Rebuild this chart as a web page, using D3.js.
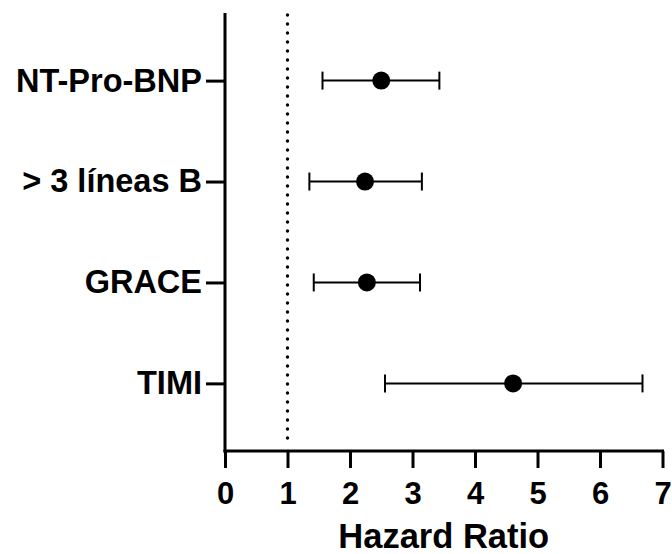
<!DOCTYPE html>
<html>
<head>
<meta charset="utf-8">
<script src="https://cdn.jsdelivr.net/npm/d3@7"></script>
<style>
	body { margin: 0; background: #fff; }
	svg text { font-family: "Liberation Sans", Arial, sans-serif; font-weight: bold; fill: #000; }
</style>
</head>
<body>
<div id="chart"></div>
<script>
let categories = ['NT-Pro-BNP', '> 3 líneas B', 'GRACE', 'TIMI'],
	hazard     = [2.50, 2.24, 2.27, 4.61],
	ciLow      = [1.56, 1.35, 1.42, 2.56],
	ciHigh     = [3.43, 3.15, 3.12, 6.68],
	xTicks     = [0, 1, 2, 3, 4, 5, 6, 7],
	refLine    = 1;

let width     = 672,
	height    = 554,
	plotLeft  = 225,
	plotRight = 662.5,
	plotTop   = 13,
	plotBot   = 451;

let svg = d3.select('#chart')
	.append('svg')
	.attr('width', width)
	.attr('height', height);

let x = d3.scaleLinear()
	.domain([0, 7])
	.range([plotLeft, plotRight]);

let y = d3.scalePoint()
	.domain(categories)
	.range([plotTop, plotBot])
	.padding(0.67);

// dotted reference line at HR = 1
svg.append('line')
	.attr('x1', x(refLine)).attr('x2', x(refLine))
	.attr('y1', plotTop + 2).attr('y2', plotBot - 4)
	.attr('stroke', '#000')
	.attr('stroke-width', 3.4)
	.attr('stroke-linecap', 'round')
	.attr('stroke-dasharray', '0,9');

let xAxis = svg.append('g')
	.attr('transform', 'translate(0,' + plotBot + ')')
	.call(d3.axisBottom(x).tickValues(xTicks).tickFormat(d3.format('d'))
		.tickSize(17).tickPadding(14).tickSizeOuter(0));

xAxis.select('.domain').attr('stroke-width', 3).attr('d', 'M' + (plotLeft - 1.5) + ',0H' + (plotRight + 1.5));
xAxis.selectAll('.tick line').attr('stroke-width', 3);
xAxis.selectAll('.tick text').style('font-size', '31px');

let yAxis = svg.append('g')
	.attr('transform', 'translate(' + plotLeft + ',0)')
	.call(d3.axisLeft(y).tickSize(19).tickPadding(4).tickSizeOuter(0));

yAxis.select('.domain').attr('stroke-width', 3).attr('d', 'M0,' + plotTop + 'V' + (plotBot + 1.5));
yAxis.selectAll('.tick line').attr('stroke-width', 3);
yAxis.selectAll('.tick text').style('font-size', '32.5px');

svg.append('text')
	.attr('x', (plotLeft + plotRight) / 2)
	.attr('y', 548)
	.attr('text-anchor', 'middle')
	.style('font-size', '34.5px')
	.text('Hazard Ratio');

let rows = svg.append('g').selectAll('g')
	.data(categories)
	.enter().append('g');

rows.append('line')
	.attr('x1', (d, i) => x(ciLow[i]))
	.attr('x2', (d, i) => x(ciHigh[i]))
	.attr('y1', d => y(d)).attr('y2', d => y(d))
	.attr('stroke', '#000').attr('stroke-width', 2);

rows.append('line')
	.attr('x1', (d, i) => x(ciLow[i])).attr('x2', (d, i) => x(ciLow[i]))
	.attr('y1', d => y(d) - 9).attr('y2', d => y(d) + 9)
	.attr('stroke', '#000').attr('stroke-width', 2);

rows.append('line')
	.attr('x1', (d, i) => x(ciHigh[i])).attr('x2', (d, i) => x(ciHigh[i]))
	.attr('y1', d => y(d) - 9).attr('y2', d => y(d) + 9)
	.attr('stroke', '#000').attr('stroke-width', 2);

rows.append('circle')
	.attr('cx', (d, i) => x(hazard[i]))
	.attr('cy', d => y(d))
	.attr('r', 9)
	.attr('fill', '#000');
</script>
</body>
</html>
